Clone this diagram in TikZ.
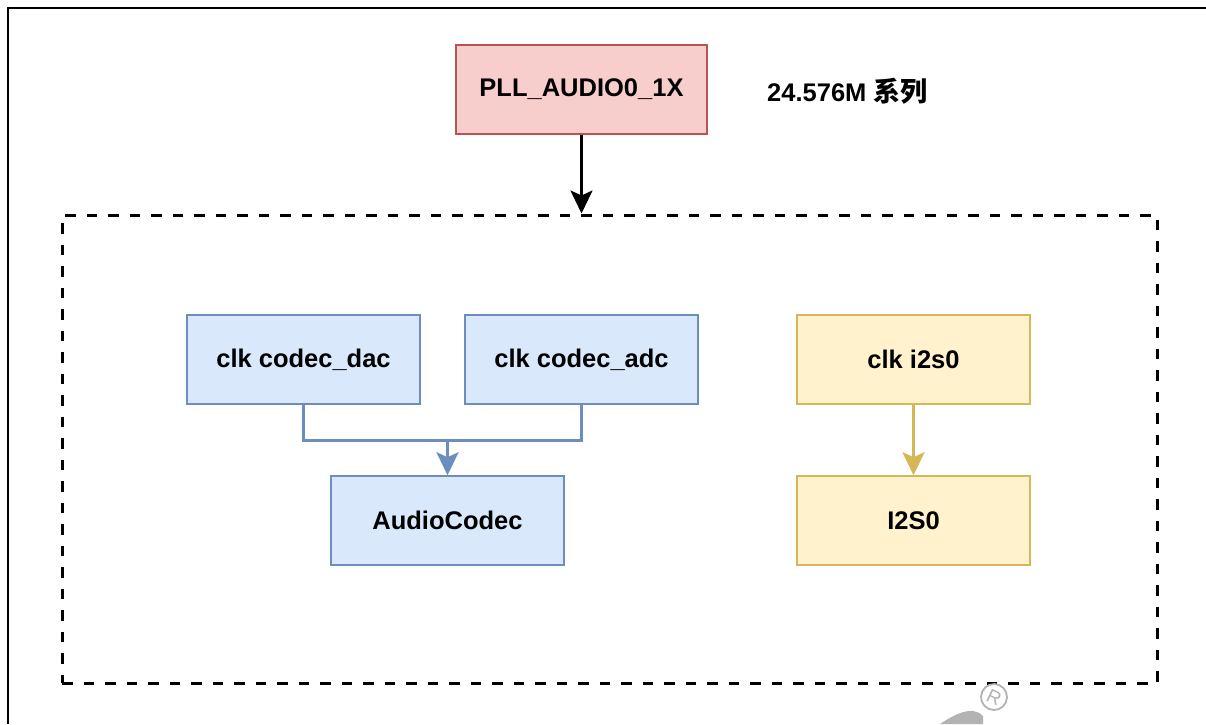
\documentclass[tikz,border=0pt]{standalone}
\usepackage{fontspec}
\setmainfont{Liberation Sans}
\newfontfamily\cjk{Noto Sans CJK SC}
\usetikzlibrary{arrows.meta}
\definecolor{pllfill}{HTML}{F8CECC}
\definecolor{pllline}{HTML}{B85450}
\definecolor{bluefill}{HTML}{DAE8FC}
\definecolor{blueline}{HTML}{6C8EBF}
\definecolor{yelfill}{HTML}{FFF2CC}
\definecolor{yelline}{HTML}{D6B656}
\definecolor{wmgrey}{HTML}{B3B3B3}
\tikzset{
  lbl/.style={font=\fontsize{25.5}{30}\selectfont\bfseries},
  box/.style={lbl, draw, line width=1.5pt, minimum width=233pt, minimum height=89pt, inner sep=0pt},
  redbox/.style={box, fill=pllfill, draw=pllline, minimum width=251pt},
  bluebox/.style={box, fill=bluefill, draw=blueline},
  yelbox/.style={box, fill=yelfill, draw=yelline},
  tip/.style={-{Stealth[length=23pt,width=22pt,inset=5pt]}},
  grpbox/.style={draw, line width=3pt, dash pattern=on 10.5pt off 11pt, minimum width=1095pt, minimum height=468pt, inner sep=0pt},
}
\begin{document}
\begin{tikzpicture}[x=1pt,y=-1pt]
\useasboundingbox (0,0) rectangle (1206,724);
\fill[white] (0,0) rectangle (1206,724);
% outer frame (cut off at right and bottom)
\draw[line width=2.5pt] (8,724) -- (8,8) -- (1206,8);
% nodes
\node[redbox] (pll) at (581.5,89.5) {PLL\_AUDIO0\_1X};
\node[anchor=west, lbl, inner sep=0pt] (freq) at (767,91) {24.576M {\cjk\bfseries\fontsize{27}{30}\selectfont 系列}};
\node[grpbox] (grp) at (609.5,449) {};
\node[bluebox] (dac) at (303.5,359.5) {clk codec\_dac};
\node[bluebox] (adc) at (581.5,359.5) {clk codec\_adc};
\node[bluebox] (codec) at (447.5,520.5) {AudioCodec};
\node[yelbox] (clki2s) at (913.5,359.5) {clk i2s0};
\node[yelbox] (i2s) at (913.5,520.5) {I2S0};
\coordinate (j) at (447.5,440);
% connectors
\draw[tip, line width=2.5pt] (pll.south) -- (pll.south |- grp.north);
\draw[line width=3pt, draw=blueline] (dac.south) |- (j) -| (adc.south);
\draw[tip, line width=3pt, draw=blueline, fill=blueline] (j) -- (codec.north);
\draw[tip, line width=3pt, draw=yelline, fill=yelline] (clki2s.south) -- (i2s.north);
% watermark
\fill[wmgrey] (940,724) .. controls (952,716) and (972,704) .. (983,716) -- (983,724) -- cycle;
\node[draw=wmgrey, line width=1.8pt, circle, minimum size=26pt, inner sep=0pt, text=wmgrey, font=\fontsize{19}{19}\selectfont, rotate=-25] (wm) at (994,697) {R};
\end{tikzpicture}
\end{document}
